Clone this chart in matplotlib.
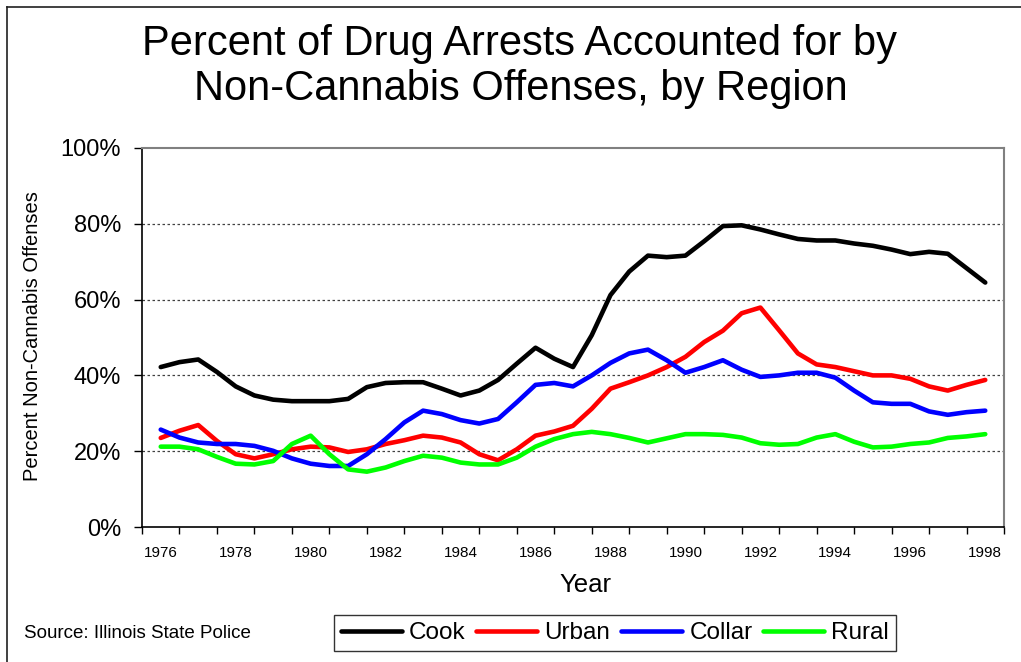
"""
Percent of drug arrests accounted for by non-cannabis offenses, by region
"""

from matplotlib import pyplot as plt
from matplotlib.lines import Line2D
import numpy as np

# half-year categories, 1976 .. 1998
years = np.arange(1976, 1998.5, 0.5)

cook = [42.2, 43.5, 44.2, 40.9, 37.1, 34.7, 33.6, 33.2, 33.2, 33.2,
        33.8, 36.9, 38.0, 38.2, 38.2, 36.5, 34.7, 36.0, 38.8, 43.1,
        47.3, 44.4, 42.2, 50.6, 61.2, 67.4, 71.6, 71.2, 71.6, 75.4,
        79.4, 79.6, 78.5, 77.2, 76.0, 75.6, 75.6, 74.8, 74.2, 73.2,
        72.0, 72.6, 72.1, 68.3, 64.5]
urban = [23.5, 25.4, 26.9, 22.7, 19.2, 18.1, 19.2, 20.5, 21.2, 21.0,
         19.8, 20.5, 21.9, 22.9, 24.1, 23.6, 22.3, 19.2, 17.6, 20.5,
         24.1, 25.2, 26.7, 31.2, 36.5, 38.2, 40.0, 42.2, 44.9, 48.8,
         51.8, 56.4, 57.9, 51.9, 45.8, 42.9, 42.2, 41.1, 40.0, 40.0,
         39.1, 37.1, 36.0, 37.5, 38.8]
collar = [25.7, 23.6, 22.3, 21.9, 21.9, 21.4, 20.1, 18.1, 16.7, 16.1,
          16.1, 19.2, 23.2, 27.6, 30.7, 29.8, 28.2, 27.3, 28.5, 32.9,
          37.5, 38.0, 37.1, 40.0, 43.3, 45.8, 46.8, 44.0, 40.7, 42.2,
          44.0, 41.5, 39.6, 40.0, 40.7, 40.7, 39.4, 36.0, 32.9, 32.5,
          32.5, 30.5, 29.6, 30.3, 30.7]
rural = [21.2, 21.2, 20.5, 18.5, 16.7, 16.5, 17.4, 21.9, 24.1, 19.2,
         15.2, 14.6, 15.7, 17.4, 18.8, 18.3, 17.0, 16.5, 16.5, 18.3,
         21.2, 23.2, 24.5, 25.1, 24.5, 23.5, 22.3, 23.4, 24.5, 24.5,
         24.3, 23.6, 22.1, 21.7, 21.9, 23.6, 24.5, 22.5, 21.0, 21.2,
         21.9, 22.3, 23.5, 23.9, 24.5]

series = [("Cook", cook, "#000000"), ("Urban", urban, "#ff0000"),
          ("Collar", collar, "#0000ff"), ("Rural", rural, "#00ff00")]

year_labels = list(range(1976, 1999, 2))
pct_ticks = [0, 20, 40, 60, 80, 100]

plt.rcParams['font.family'] = ['Liberation Sans', 'DejaVu Sans']

W, H = 1021, 662
fig = plt.figure(figsize=(W / 100, H / 100), dpi=100)
fig.patch.set_facecolor('white')

axes = fig.add_axes([142 / W, 1 - 527 / H, (1004 - 142) / W, (527 - 148) / H])

for name, vals, col in series:
    axes.plot(years, vals, color=col, lw=3.3, label=name, solid_joinstyle='round',
              solid_capstyle='round')

axes.set_xlim(1975.5, 1998.5)
axes.set_ylim(0, 100)

axes.set_xticks(year_labels)
axes.set_xticklabels([str(y) for y in year_labels], fontsize=11)
axes.set_xticks(np.arange(1975.5, 1999, 1), minor=True)
axes.tick_params(axis='x', which='major', length=0, pad=14)
axes.tick_params(axis='x', which='minor', length=5, direction='out', width=1)

axes.set_yticks(pct_ticks)
axes.set_yticklabels([f"{p}%" for p in pct_ticks], fontsize=17)
axes.tick_params(axis='y', length=6, direction='out', width=1, pad=9)

for p in pct_ticks[1:-1]:
    axes.axhline(p, color='#404040', lw=0.9, ls=(0, (2, 2)), zorder=0)

for side in ['left', 'bottom']:
    axes.spines[side].set_color('black')
    axes.spines[side].set_linewidth(1.2)
for side in ['top', 'right']:
    axes.spines[side].set_color('#808080')
    axes.spines[side].set_linewidth(1.5)

fig.text(520 / W, 1 - 55 / H, "Percent of Drug Arrests Accounted for by",
         ha='center', va='baseline', fontsize=30)
fig.text(521 / W, 1 - 100 / H, "Non-Cannabis Offenses, by Region",
         ha='center', va='baseline', fontsize=30)

fig.text(33 / W, 1 - 336 / H, "Percent Non-Cannabis Offenses", rotation=90,
         ha='center', va='center', fontsize=14.5)
fig.text(585 / W, 1 - 585 / H, "Year", ha='center', va='center', fontsize=18.5)
fig.text(24 / W, 1 - 633 / H, "Source: Illinois State Police",
         ha='left', va='center', fontsize=13.5)

leg = fig.legend(loc='center', bbox_to_anchor=(615 / W, 1 - 633 / H), ncol=4,
                 fontsize=17.5, frameon=True, fancybox=False, handlelength=2.5,
                 handletextpad=0.3, columnspacing=0.45, borderpad=0.3)
leg.get_frame().set_edgecolor('black')
leg.get_frame().set_linewidth(1.0)
for ln in leg.get_lines():
    ln.set_linewidth(3.3)

# outer chart border (cut off at right and bottom)
fig.add_artist(Line2D([7 / W, 1], [1 - 7 / H, 1 - 7 / H], color='#202020', lw=1.2))
fig.add_artist(Line2D([7 / W, 7 / W], [1 - 7 / H, 0], color='#202020', lw=1.2))

fig.savefig('out.png', dpi=100)
